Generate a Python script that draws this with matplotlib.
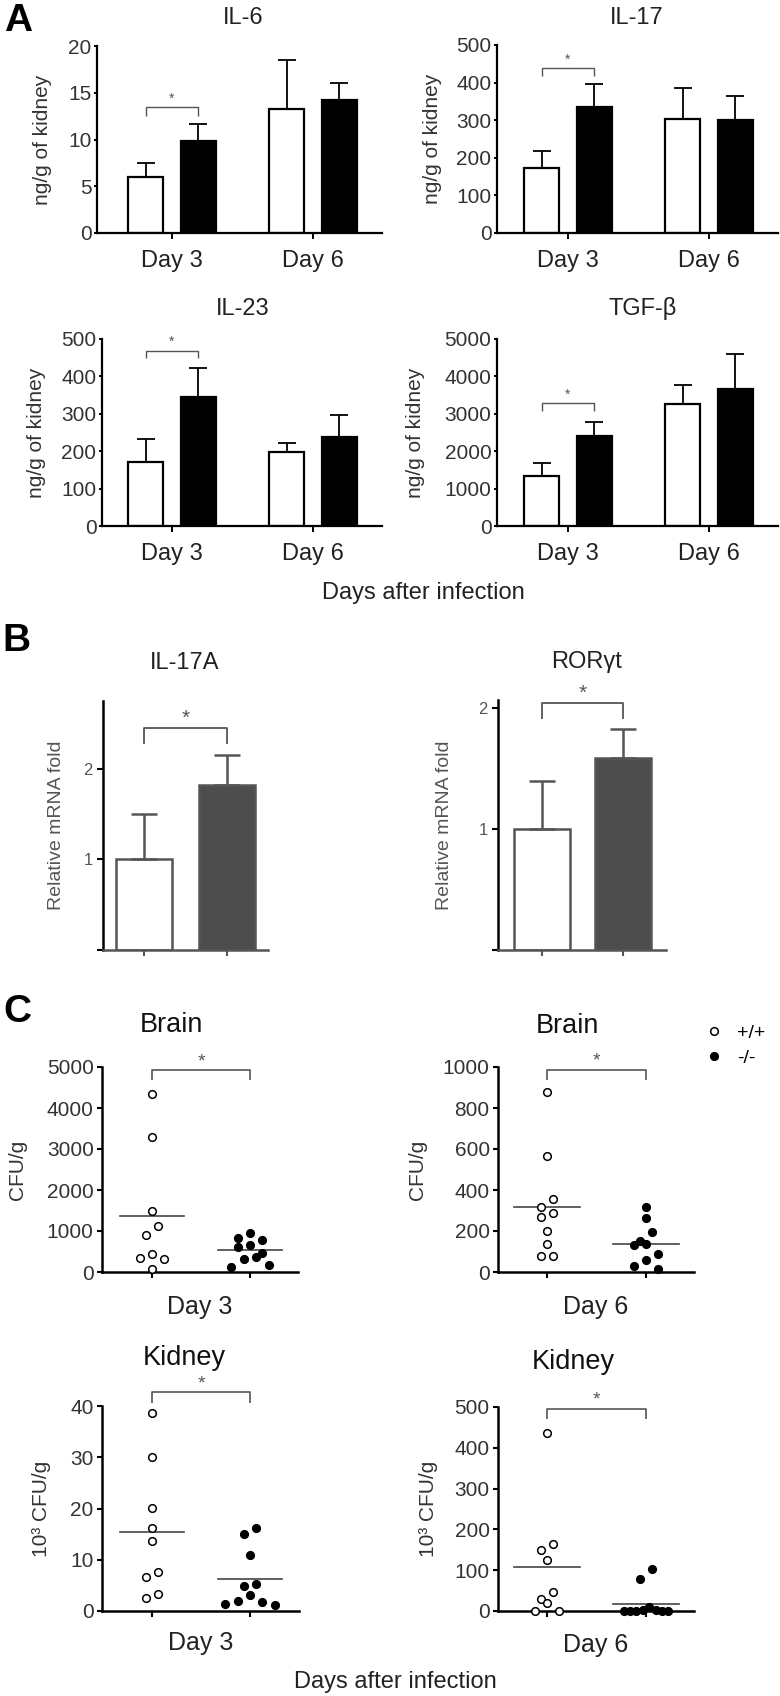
import numpy as np
import matplotlib
matplotlib.use('Agg')
import matplotlib.pyplot as plt
from matplotlib.lines import Line2D

plt.rcParams['font.family'] = ['Liberation Sans', 'DejaVu Sans']

W, H = 780, 1696

# ---------------- panel A: cytokines in kidney (ng/g) ----------------
days = ['Day 3', 'Day 6']
il6_wt, il6_wt_err = [5.94, 13.24], [1.53, 5.23]
il6_ko, il6_ko_err = [9.79, 14.23], [1.85, 1.85]
il17_wt, il17_wt_err = [172.6, 302.7], [46.0, 82.3]
il17_ko, il17_ko_err = [336.0, 301.0], [59.6, 63.6]
il23_wt, il23_wt_err = [171.0, 198.8], [60.7, 24.0]
il23_ko, il23_ko_err = [344.0, 238.9], [79.0, 57.0]
tgf_wt, tgf_wt_err = [1346, 3271], [347, 499]
tgf_ko, tgf_ko_err = [2398, 3672], [392, 927]
# significance bracket (top, foot) for Day 3
il6_sig = (13.45, 12.46)
il17_sig = (438, 418)
il23_sig = (468.8, 448.3)
tgf_sig = (3280, 3075)

# ---------------- panel B: relative mRNA ----------------
il17a_vals, il17a_err = [1.0, 1.82], [0.50, 0.33]
rorgt_vals, rorgt_err = [1.0, 1.586], [0.40, 0.24]
il17a_sig = (2.45, 2.27)
rorgt_sig = (2.047, 1.909)

# ---------------- panel C: fungal burden ----------------
brain3_wt = [4333, 3285, 1480, 1130, 894, 447, 350, 325, 73]
brain3_ko = [959, 837, 772, 650, 610, 463, 366, 325, 179, 122]
brain6_wt = [878, 566, 354, 318, 290, 266, 201, 135, 77, 77]
brain6_ko = [318, 264, 196, 150, 135, 130, 86, 60, 31, 16]
kid3_wt = [38.6, 30.0, 20.1, 16.2, 13.6, 7.6, 6.7, 3.4, 2.6]
kid3_ko = [16.1, 15.0, 11.0, 5.3, 4.9, 3.1, 1.9, 1.8, 1.4, 1.1]
kid6_wt = [437, 165, 149, 126, 47, 30, 20, 1, 1]
kid6_ko = [104, 79, 10, 2, 2, 1, 1, 1, 1, 1]
# horizontal lines (group means as drawn)
brain3_mean = [1366, 528]
brain6_mean = [315, 139]
kid3_mean = [15.4, 6.2]
kid6_mean = [107.8, 18.0]
brain3_sig = (4919, 4675)
brain6_sig = (987, 938)
kid3_sig = (42.7, 40.65)
kid6_sig = (496, 470)

fig = plt.figure(figsize=(W / 100, H / 100), dpi=100)


def add_ax(x0, y0, x1, y1):
    # pixel box: x0 = y-axis, x1 = end of x-axis, y0 = top, y1 = zero line
    return fig.add_axes([x0 / W, 1 - y1 / H, (x1 - x0) / W, (y1 - y0) / H])


def px_text(x, y, s, **kw):
    fig.text(x / W, 1 - y / H, s, ha='center', va='center', **kw)


def bracket(ax, x0, x1, sig, color, lw, size, gap):
    top, foot = sig
    ax.plot([x0, x0, x1, x1], [foot, top, top, foot], color=color, lw=lw,
            clip_on=False, solid_capstyle='butt')
    ax.annotate('*', ((x0 + x1) / 2, top), xytext=(0, gap),
                textcoords='offset points', ha='center', va='bottom',
                fontsize=size, color=color, annotation_clip=False)


def base_style(ax, lw):
    for s in ['top', 'right']:
        ax.spines[s].set_visible(False)
    for s in ['left', 'bottom']:
        ax.spines[s].set_linewidth(lw)


# ---- A ----
off, bw = 0.187, 0.25
a_specs = [
    ('IL-6', (97, 46, 382, 233), (172, 313), 20, np.arange(0, 21, 5),
     il6_wt, il6_wt_err, il6_ko, il6_ko_err, il6_sig, (243, 18), 43),
    ('IL-17', (497, 45, 778, 233), (568, 709), 500, np.arange(0, 501, 100),
     il17_wt, il17_wt_err, il17_ko, il17_ko_err, il17_sig, (637, 18), 433),
    ('IL-23', (102, 339, 382, 526), (172, 313), 500, np.arange(0, 501, 100),
     il23_wt, il23_wt_err, il23_ko, il23_ko_err, il23_sig, (243, 309), 37),
    ('TGF-β', (497, 339, 778, 526), (568, 709), 5000, np.arange(0, 5001, 1000),
     tgf_wt, tgf_wt_err, tgf_ko, tgf_ko_err, tgf_sig, (643, 309), 416),
]
for (title, box, ticks, ymax, yt, wt, wte, ko, koe, sig, tpos, ylx) in a_specs:
    ax = add_ax(*box)
    sp = ticks[1] - ticks[0]
    ax.set_xlim((box[0] - ticks[0]) / sp, (box[2] - ticks[0]) / sp)
    ax.set_ylim(0, ymax)
    x = np.arange(2)
    ekw = dict(ecolor='black', elinewidth=1.3, capsize=6.5, capthick=1.3)
    ax.bar(x - off, wt, bw, color='white', edgecolor='black', lw=1.6,
           yerr=[np.zeros(2), wte], error_kw=ekw, zorder=2)
    ax.bar(x + off, ko, bw, color='black', edgecolor='black', lw=1.6,
           yerr=[np.zeros(2), koe], error_kw=ekw, zorder=2)
    base_style(ax, 1.6)
    ax.set_yticks(yt)
    ax.set_xticks(x, days)
    ax.tick_params(axis='y', length=2.5, width=1.4, pad=1.5, labelsize=15,
                   labelcolor='#333')
    ax.tick_params(axis='x', length=4.3, width=1.4, pad=8, labelsize=17,
                   labelcolor='#222')
    ax.set_ylabel('ng/g of kidney', fontsize=15, color='#333', va='center')
    ax.yaxis.set_label_coords((ylx - box[0]) / (box[2] - box[0]), 0.5)
    bracket(ax, -off, off, sig, '#555', 1.0, 10, 1)
    px_text(*tpos, title, fontsize=17, color='#222')

px_text(423, 593, 'Days after infection', fontsize=17, color='#222')
px_text(18, 21, 'A', fontsize=28, fontweight='bold')

# ---- B ----
b_specs = [
    ('IL-17A', (103, 701, 268, 950), (144, 227), 2.75, il17a_vals, il17a_err,
     il17a_sig, (185, 663), 57),
    ('RORγt', (498, 700, 666, 950), (542, 623), 2.07, rorgt_vals, rorgt_err,
     rorgt_sig, (587, 662), 445),
]
for (title, box, ticks, ymax, vals, err, sig, tpos, ylx) in b_specs:
    ax = add_ax(*box)
    sp = ticks[1] - ticks[0]
    ax.set_xlim((box[0] - ticks[0]) / sp, (box[2] - ticks[0]) / sp)
    ax.set_ylim(0, ymax)
    bwb = 56 / sp
    ax.bar([0, 1], vals, bwb, color=['white', '#4d4d4d'], edgecolor='#555',
           lw=1.8, yerr=[np.zeros(2), err],
           error_kw=dict(ecolor='#555', elinewidth=1.8, capsize=9.5, capthick=1.8),
           zorder=2)
    base_style(ax, 1.8)
    ax.spines['left'].set_color('black')
    ax.spines['bottom'].set_color('#555')
    ax.set_yticks([0, 1, 2], ['', '1', '2'])
    ax.set_xticks([0, 1], ['', ''])
    ax.tick_params(axis='y', length=4.5, width=1.5, pad=3, labelsize=12,
                   labelcolor='#555', color='black')
    ax.tick_params(axis='x', length=4.5, width=1.5, color='#555')
    ax.set_ylabel('Relative mRNA fold', fontsize=14, color='#555', va='center')
    ax.yaxis.set_label_coords((ylx - box[0]) / (box[2] - box[0]), 0.5)
    bracket(ax, 0, 1, sig, '#555', 1.3, 15, 0)
    px_text(*tpos, title, fontsize=17, color='#222')

px_text(16, 641, 'B', fontsize=28, fontweight='bold')


# ---- C ----
def swarm_offsets(values, px_y, px_x, band=11.0, step=12.4, max_span=50.0):
    # group points that share a y band into rows and centre each row
    values = np.asarray(values, float)
    order = np.argsort(-values, kind='stable')
    rows = []
    for i in order:
        if rows and (values[rows[-1][0]] - values[i]) * px_y < band:
            rows[-1].append(i)
        else:
            rows.append([i])
    xs = np.zeros(len(values))
    for row in rows:
        n = len(row)
        s = min(step, max_span / max(n - 1, 1))
        if n > 6:
            s = 6.4
        if n % 2:
            slots = [0] + [k for j in range(1, n // 2 + 1) for k in (-j, j)]
        else:
            slots = [k for j in range(n // 2) for k in (j + 0.5, -(j + 0.5))]
        for i, sl in zip(row, slots):
            xs[i] = sl * s / px_x
    return xs


c_specs = [
    ('Brain', (102, 1067, 298, 1272), (152, 250), 5000, np.arange(0, 5001, 1000),
     brain3_wt, brain3_ko, brain3_mean, brain3_sig, (171, 1025), 17, 'CFU/g',
     'Day 3', 1307),
    ('Brain', (498, 1067, 694, 1272), (547, 646), 1000, np.arange(0, 1001, 200),
     brain6_wt, brain6_ko, brain6_mean, brain6_sig, (567, 1026), 418, 'CFU/g',
     'Day 6', 1307),
    ('Kidney', (102, 1406, 299, 1611), (152, 250), 40, np.arange(0, 41, 10),
     kid3_wt, kid3_ko, kid3_mean, kid3_sig, (184, 1358), 42, '10³ CFU/g',
     'Day 3', 1643),
    ('Kidney', (498, 1407, 694, 1611), (547, 646), 500, np.arange(0, 501, 100),
     kid6_wt, kid6_ko, kid6_mean, kid6_sig, (573, 1362), 429, '10³ CFU/g',
     'Day 6', 1645),
]
for (title, box, ticks, ymax, yt, wt, ko, means, sig, tpos, ylx, ylab,
     day, dayy) in c_specs:
    ax = add_ax(*box)
    sp = ticks[1] - ticks[0]
    ax.set_xlim((box[0] - ticks[0]) / sp, (box[2] - ticks[0]) / sp)
    ax.set_ylim(0, ymax)
    px_y = (box[3] - box[1]) / ymax
    for g, (vals, fc) in enumerate([(wt, 'white'), (ko, 'black')]):
        xo = swarm_offsets(vals, px_y, sp)
        ax.plot(g + xo, vals, ls='none', marker='o', ms=5.5, mfc=fc, mec='black',
                mew=1.1, clip_on=False, zorder=3)
        ax.plot([g - 0.33, g + 0.33], [means[g], means[g]], color='#444',
                lw=1.2, zorder=2)
    base_style(ax, 1.8)
    ax.set_yticks(yt)
    ax.set_xticks([0, 1], ['', ''])
    ax.tick_params(axis='y', length=3.5, width=1.5, pad=2.5, labelsize=15,
                   labelcolor='#333')
    ax.tick_params(axis='x', length=4, width=1.5)
    ax.set_ylabel(ylab, fontsize=15, color='#333', va='center')
    ax.yaxis.set_label_coords((ylx - box[0]) / (box[2] - box[0]), 0.5)
    ax.set_xlabel(day, fontsize=18, color='#222', va='center')
    ax.xaxis.set_label_coords(0.5, -(dayy - box[3]) / (box[3] - box[1]))
    bracket(ax, 0, 1, sig, '#555', 1.2, 14, 0)
    px_text(*tpos, title, fontsize=19.5, color='#111')

px_text(17, 1012, 'C', fontsize=28, fontweight='bold')
px_text(395, 1682, 'Days after infection', fontsize=17, color='#222')

handles = [Line2D([], [], ls='none', marker='o', ms=5.5, mfc='white', mec='black',
                  mew=1.1, label='+/+'),
           Line2D([], [], ls='none', marker='o', ms=5.5, mfc='black', mec='black',
                  mew=1.1, label='-/-')]
fig.legend(handles=handles, loc='upper left', bbox_to_anchor=(704 / W, 1 - 1024 / H),
           frameon=False, fontsize=14, handlelength=1.0, handletextpad=0.7,
           labelspacing=0.4, borderaxespad=0, borderpad=0)

fig.savefig('out.png', dpi=100)
